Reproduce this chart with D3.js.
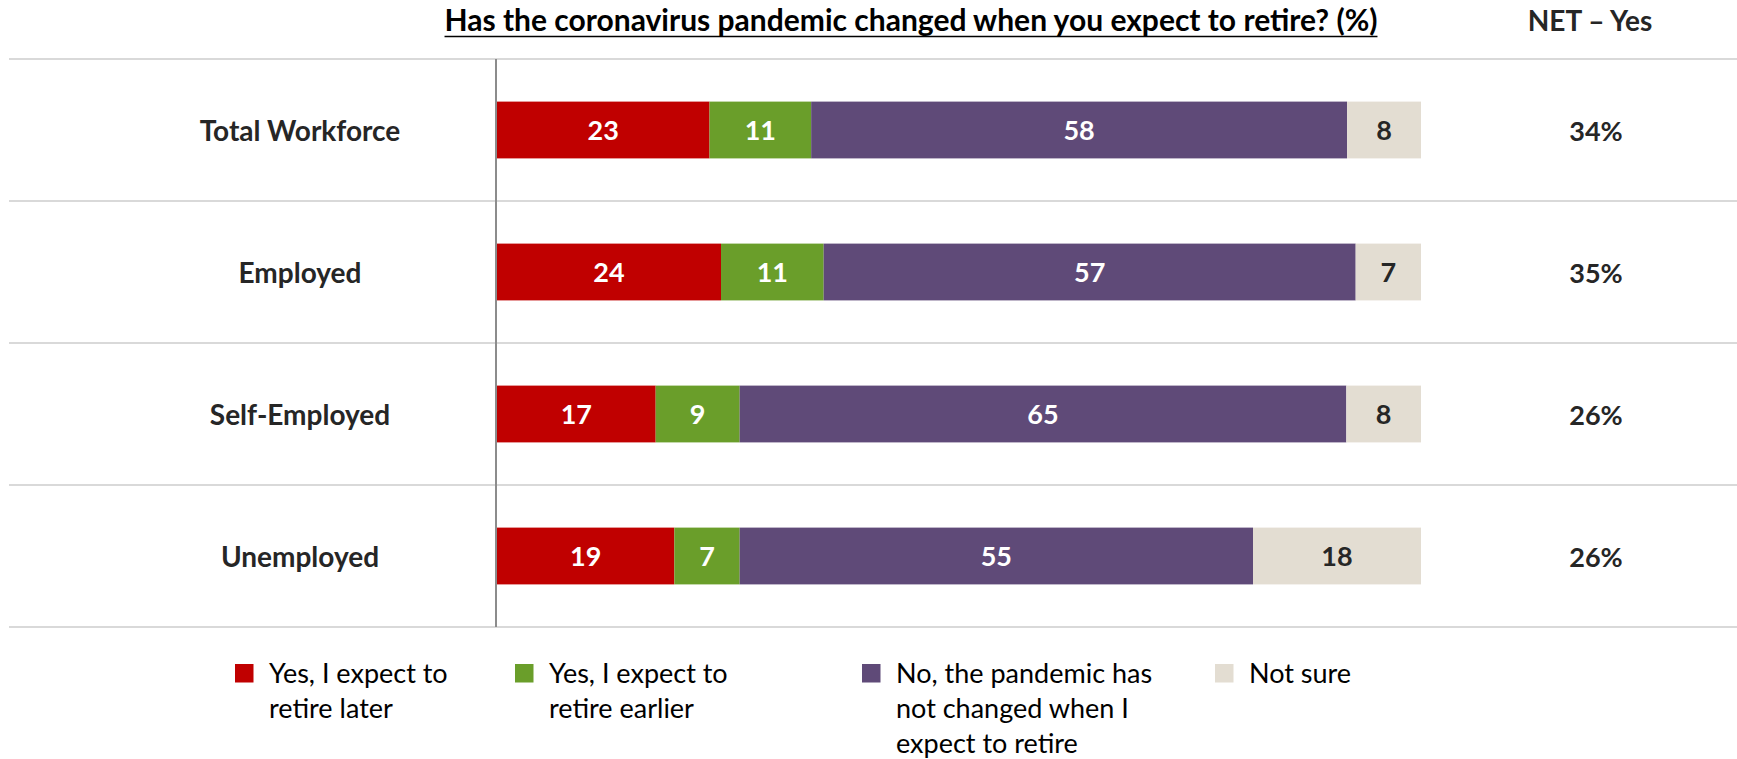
<!DOCTYPE html>
<html>
<head>
<meta charset="utf-8">
<script src="https://cdn.jsdelivr.net/npm/d3@7"></script>
<style>
  html, body { margin: 0; padding: 0; background: #ffffff; }
  svg { display: block; font-family: Lato, "Open Sans", sans-serif; }
</style>
</head>
<body>
<svg id="chart" width="1737" height="759"></svg>
<script>
// Survey groups and their answer shares (%)
const categories = ["Total Workforce", "Employed", "Self-Employed", "Unemployed"];
const retireLater = [23, 24, 17, 19];
const retireEarlier = [11, 11, 9, 7];
const noChange = [58, 57, 65, 55];
const notSure = [8, 7, 8, 18];
const netYes = [34, 35, 26, 26];

const seriesKeys = ["later", "earlier", "nochange", "notsure"];
const seriesColors = ["#C00000", "#6A9E2A", "#5F4A78", "#E3DDD2"];
const labelColors = ["#ffffff", "#ffffff", "#ffffff", "#262626"];
const legendLines = [
  ["Yes, I expect to", "retire later"],
  ["Yes, I expect to", "retire earlier"],
  ["No, the pandemic has", "not changed when I", "expect to retire"],
  ["Not sure"]
];

const title = "Has the coronavirus pandemic changed when you expect to retire? (%)";
const netTitle = "NET \u2013 Yes";

const rows = categories.map((c, i) => ({
  category: c,
  later: retireLater[i],
  earlier: retireEarlier[i],
  nochange: noChange[i],
  notsure: notSure[i],
  net: netYes[i]
}));

const svg = d3.select("#chart");
const textColor = "#262626";
const fontSize = 27;

// Each row is shown as a full-width 100% stacked bar
const stacked = d3.stack().keys(seriesKeys).offset(d3.stackOffsetExpand)(rows);

const x = d3.scaleLinear().domain([0, 1]).range([497, 1421]);
const y = d3.scaleBand().domain(categories).range([59, 627])
  .paddingInner(0.6).paddingOuter(0.3);
const step = y.step();

// Title, underlined
const titleText = svg.append("text")
  .attr("x", 911).attr("y", 31)
  .attr("text-anchor", "middle")
  .attr("font-size", 30).attr("font-weight", "bold")
  .attr("fill", "#000").text(title);
const tb = titleText.node().getBBox();
svg.append("line")
  .attr("x1", tb.x).attr("x2", tb.x + tb.width)
  .attr("y1", 36.5).attr("y2", 36.5)
  .attr("stroke", "#000").attr("stroke-width", 1.7);

svg.append("text")
  .attr("x", 1590).attr("y", 31)
  .attr("text-anchor", "middle")
  .attr("font-size", 28).attr("font-weight", "bold")
  .attr("fill", textColor).text(netTitle);

// Row separators (top rule plus one below each band)
const sepY = [y.range()[0]].concat(categories.map(c => y(c) - step * 0.3 + step));
svg.append("g").selectAll("line").data(sepY).join("line")
  .attr("x1", 9).attr("x2", 1737)
  .attr("y1", d => d).attr("y2", d => d)
  .attr("stroke", "#D9D9D9").attr("stroke-width", 2);

// Stacked segments
const layers = svg.append("g").selectAll("g").data(stacked).join("g")
  .attr("fill", (d, i) => seriesColors[i]);

layers.selectAll("rect").data(d => d).join("rect")
  .attr("x", d => x(d[0]))
  .attr("y", d => y(d.data.category))
  .attr("width", d => x(d[1]) - x(d[0]))
  .attr("height", y.bandwidth());

// Value labels inside segments
svg.append("g").selectAll("g").data(stacked).join("g")
  .attr("fill", (d, i) => labelColors[i])
  .selectAll("text").data(d => d.map(p => ({ p, key: d.key }))).join("text")
  .attr("x", d => (x(d.p[0]) + x(d.p[1])) / 2)
  .attr("y", d => y(d.p.data.category) + y.bandwidth() / 2)
  .attr("dy", "0.36em")
  .attr("text-anchor", "middle")
  .attr("font-size", fontSize).attr("font-weight", "bold")
  .text(d => d.p.data[d.key]);

// Vertical baseline axis
const yAxis = d3.axisLeft(y).tickSize(0).tickFormat("");
svg.append("g")
  .attr("transform", "translate(496,0)")
  .call(yAxis)
  .call(g => g.select(".domain").attr("stroke", "#8C8C8C").attr("stroke-width", 2)
    .attr("d", `M0,${y.range()[0]}V${y.range()[1]}`));

// Category labels
svg.append("g").selectAll("text").data(rows).join("text")
  .attr("x", 300)
  .attr("y", d => y(d.category) + y.bandwidth() / 2)
  .attr("dy", "0.4em")
  .attr("text-anchor", "middle")
  .attr("font-size", 28).attr("font-weight", "bold")
  .attr("fill", textColor)
  .text(d => d.category);

// NET – Yes column
svg.append("g").selectAll("text").data(rows).join("text")
  .attr("x", 1596)
  .attr("y", d => y(d.category) + y.bandwidth() / 2)
  .attr("dy", "0.4em")
  .attr("text-anchor", "middle")
  .attr("font-size", fontSize).attr("font-weight", "bold")
  .attr("fill", textColor)
  .text(d => d.net + "%");

// Legend
const legendX = [235, 515, 862, 1215];
const legend = svg.append("g").selectAll("g").data(seriesKeys).join("g")
  .attr("transform", (d, i) => `translate(${legendX[i]},664)`);
legend.append("rect")
  .attr("width", 18.5).attr("height", 18.5)
  .attr("fill", (d, i) => seriesColors[i]);
legend.append("text")
  .attr("x", 34).attr("y", 19)
  .attr("font-size", fontSize).attr("fill", "#000")
  .selectAll("tspan").data((d, i) => legendLines[i]).join("tspan")
  .attr("x", 34).attr("dy", (d, j) => j === 0 ? 0 : 35)
  .text(d => d);
</script>
</body>
</html>
